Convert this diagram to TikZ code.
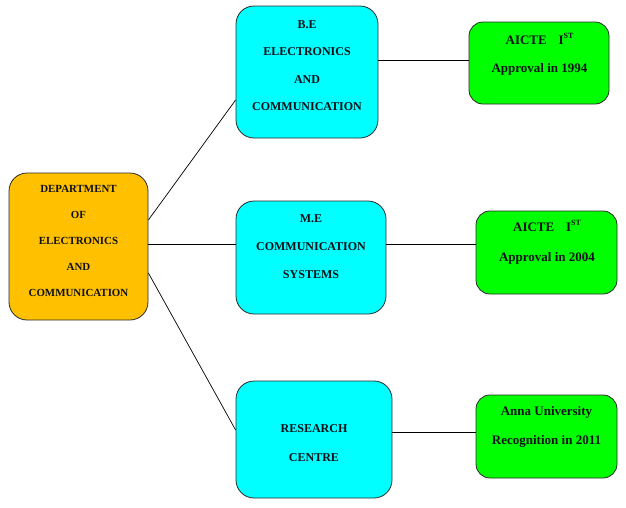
\documentclass[tikz,border=0pt]{standalone}
\usepackage{fontspec}
\setmainfont{Liberation Serif}
\definecolor{orangebox}{HTML}{FFC000}
\definecolor{cyanbox}{HTML}{00FFFF}
\definecolor{greenbox}{HTML}{00FF00}
\definecolor{edge}{HTML}{2A2A2A}
\definecolor{txt}{HTML}{101018}
\newcommand{\supst}{\raisebox{0.45em}{\fontsize{8}{8}\selectfont ST}}
\begin{document}
\begin{tikzpicture}[x=1pt,y=-1pt,
  box/.style={draw=edge, line width=0.8pt, rounded corners=18pt, inner sep=0pt},
  gbox/.style={box, rounded corners=14pt, fill=greenbox},
  lbl/.style={align=center, text=txt, font=\bfseries\fontsize{12}{28}\selectfont, inner sep=0pt},
  conn/.style={draw=black, line width=0.7pt}]
\useasboundingbox (0,0) rectangle (626,507);
% boxes
\node[box, fill=orangebox, minimum width=139pt, minimum height=147pt] (dept) at (78.5,246.5) {};
\node[box, fill=cyanbox, minimum width=142pt, minimum height=132pt] (be) at (307,72) {};
\node[box, fill=cyanbox, minimum width=150pt, minimum height=113pt] (me) at (311,257.5) {};
\node[box, fill=cyanbox, minimum width=156pt, minimum height=117pt] (rc) at (314,439.5) {};
\node[gbox, minimum width=140pt, minimum height=82pt] (a1) at (539,63) {};
\node[gbox, minimum width=141pt, minimum height=83pt] (a2) at (546.5,252.5) {};
\node[gbox, minimum width=141pt, minimum height=83pt] (an) at (546.5,436.5) {};
% texts
\node[lbl, font=\bfseries\fontsize{10.9}{26.2}\selectfont] (tdept) at (78.5,241) {DEPARTMENT\\OF\\ELECTRONICS\\AND\\COMMUNICATION};
\node[lbl, font=\bfseries\fontsize{12}{27.5}\selectfont] (tbe) at (307,65.5) {B.E\\ELECTRONICS\\AND\\COMMUNICATION};
\node[lbl, font=\bfseries\fontsize{12}{28}\selectfont] (tme) at (311,246.5) {M.E\\COMMUNICATION\\SYSTEMS};
\node[lbl, font=\bfseries\fontsize{12}{29}\selectfont] (trc) at (314,443) {RESEARCH\\CENTRE};
\node[lbl, font=\bfseries\fontsize{13}{28}\selectfont] (ta1) at (539.5,54.5) {AICTE\hspace{0.9em}I\supst\\Approval in 1994};
\node[lbl, font=\bfseries\fontsize{13}{30}\selectfont] (ta2) at (547,242.5) {AICTE\hspace{0.9em}I\supst\\Approval in 2004};
\node[lbl, font=\bfseries\fontsize{13}{29}\selectfont] (tan) at (546.5,427) {Anna University\\Recognition in 2011};
% connectors
\draw[conn] (dept.east |- 0,220) -- (be.west |- 0,100);
\draw[conn] (dept.east |- 0,244) -- (me.west |- 0,244);
\draw[conn] (dept.east |- 0,273) -- (rc.west |- 0,430);
\draw[conn] (be.east |- 0,60) -- (a1.west |- 0,60);
\draw[conn] (me.east |- 0,244) -- (a2.west |- 0,244);
\draw[conn] (rc.east |- 0,432) -- (an.west |- 0,432);
\end{tikzpicture}
\end{document}
